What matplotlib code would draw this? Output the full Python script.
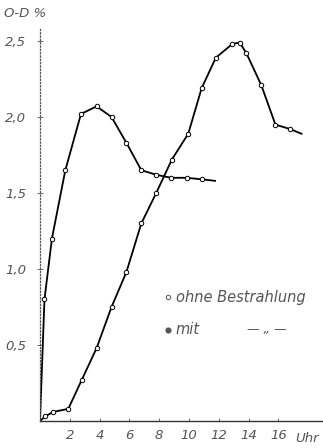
import numpy as np
import matplotlib.pyplot as plt

plt.rcParams['font.family'] = ['DejaVu Sans']
plt.rcParams['font.size'] = 10

# Werte (Stunden, O-D %)
t_mit = [0.0, 0.3, 0.8, 1.7, 2.75, 3.8, 4.8, 5.8, 6.8, 7.8, 8.8, 9.85, 10.85]
od_mit = [0.0, 0.80, 1.20, 1.65, 2.02, 2.07, 2.00, 1.83, 1.65, 1.62, 1.60, 1.60, 1.59]
t_mit_end = 11.75
od_mit_end = 1.58

t_ohne = [0.0, 0.34, 0.9, 1.9, 2.8, 3.8, 4.8, 5.8, 6.8, 7.8, 8.85, 9.95,
          10.85, 11.8, 12.9, 13.4, 13.85, 14.85, 15.8, 16.8]
od_ohne = [0.0, 0.03, 0.06, 0.08, 0.27, 0.48, 0.75, 0.98, 1.30, 1.50, 1.72, 1.89,
           2.19, 2.39, 2.48, 2.49, 2.42, 2.21, 1.95, 1.92]
t_ohne_end = 17.55
od_ohne_end = 1.89

x_ticks = [2, 4, 6, 8, 10, 12, 14, 16]
y_ticks = [0.5, 1.0, 1.5, 2.0, 2.5]
y_labels = ['0,5', '1,0', '1,5', '2,0', '2,5']

grey = '#555555'

fig = plt.figure(figsize=(3.23, 4.48), dpi=100)
ax = fig.add_axes([40 / 323, (448 - 421) / 448, (323 - 40) / 323, (421 - 26) / 448])
ax.set_xlim(0, (323 - 40) / 14.9)
ax.set_ylim(0, (421 - 26) / 152)

# Kurven
ax.plot(t_mit + [t_mit_end], od_mit + [od_mit_end], color='black', lw=1.3, zorder=2)
ax.plot(t_mit[1:], od_mit[1:], 'o', ms=3.2, mfc='white', mec='black', mew=0.7, zorder=3)
ax.plot(t_ohne + [t_ohne_end], od_ohne + [od_ohne_end], color='black', lw=1.3, zorder=2)
ax.plot(t_ohne[1:], od_ohne[1:], 'o', ms=3.2, mfc='white', mec='black', mew=0.7, zorder=3)

# Achsen
for s in ['top', 'right']:
    ax.spines[s].set_visible(False)
ax.spines['left'].set_bounds(0, 2.58)
ax.spines['left'].set_linestyle(':')
ax.spines['left'].set_color(grey)
ax.spines['left'].set_linewidth(0.9)
ax.spines['bottom'].set_color('#333333')
ax.spines['bottom'].set_linewidth(1.0)
ax.spines['bottom'].set_linestyle((0, (4, 1)))

ax.set_xticks(x_ticks)
ax.set_xticklabels([str(v) for v in x_ticks], style='italic', color=grey, fontsize=9.5)
ax.set_yticks(y_ticks)
ax.set_yticklabels(y_labels, style='italic', color=grey, fontsize=9.5)
ax.tick_params(axis='x', direction='in', length=2, width=0.6, color=grey, pad=6)
ax.tick_params(axis='y', direction='inout', length=4, width=0.6, color=grey, pad=8)

ax.text(17.15, -0.07, 'Uhr', style='italic', color=grey, fontsize=9.5,
        ha='left', va='top', clip_on=False)
ax.text(-2.4, 2.68, 'O-D %', style='italic', color=grey, fontsize=9.5,
        ha='left', va='center', clip_on=False)

# Legende
ax.plot([8.6], [0.815], 'o', ms=3.2, mfc='white', mec=grey, mew=0.7, clip_on=False)
ax.text(9.1, 0.815, 'ohne Bestrahlung', style='italic', color=grey, fontsize=10.5,
        ha='left', va='center')
ax.plot([8.6], [0.6], 'o', ms=3.4, mfc=grey, mec=grey, clip_on=False)
ax.text(9.1, 0.6, 'mit', style='italic', color=grey, fontsize=10.5,
        ha='left', va='center')
ax.text(13.9, 0.6, '— „ —', style='italic', color=grey, fontsize=9,
        ha='left', va='center')

fig.savefig('out.png', dpi=100)
